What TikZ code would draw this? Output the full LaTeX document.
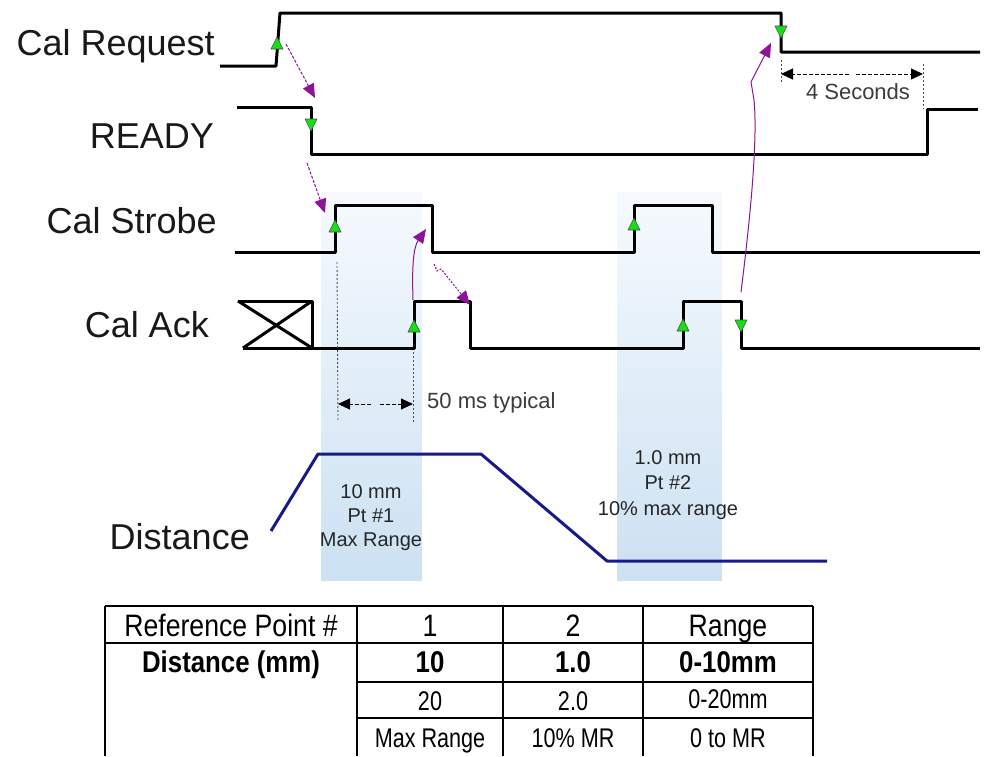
\documentclass[tikz,border=0pt]{standalone}
\usepackage{fontspec}
\setmainfont{Liberation Sans}
\newfontfamily\hdrfont[FakeStretch=0.86]{Liberation Sans}
\newfontfamily\narrowfont[FakeStretch=0.80]{Liberation Sans}
\usetikzlibrary{arrows.meta}
\definecolor{bandtop}{RGB}{246,250,254}
\definecolor{bandbot}{RGB}{204,225,242}
\definecolor{navy}{RGB}{25,25,135}
\definecolor{purp}{RGB}{140,20,150}
\definecolor{trigreen}{RGB}{20,225,20}
\definecolor{txtgrey}{RGB}{60,60,60}
\tikzset{
  sig/.style={line width=3pt, line join=round, black},
  lbl/.style={font=\fontsize{36}{40}\selectfont, inner sep=0pt, text=black!90},
  dimlbl/.style={font=\fontsize{22}{26}\selectfont, inner sep=0pt, text=txtgrey},
  bandlbl/.style={font=\fontsize{20}{24}\selectfont, inner sep=0pt, text=black!85, align=center},
  trifill/.style={fill=trigreen, draw=black!70, line width=0.6pt, line join=round},
  parrow/.style={purp, line width=1pt, -{Triangle[length=14pt,width=12pt]}},
  dimhead/.style={black, line width=1pt, dash pattern=on 4pt off 2pt, -{Triangle[length=12pt,width=11pt]}},
  guide/.style={black!70, line width=0.9pt, dash pattern=on 2pt off 2pt},
  dist/.style={navy, line width=3pt, line join=round},
  tab/.style={black, line width=2.2pt},
  hdr/.style={font=\hdrfont\fontsize{31}{34}\selectfont, inner sep=0pt, anchor=base},
  bld/.style={font=\hdrfont\bfseries\fontsize{30}{34}\selectfont, inner sep=0pt, anchor=base},
  reg/.style={font=\narrowfont\fontsize{27}{30}\selectfont, inner sep=0pt, anchor=base},
}
\newcommand\uptri[2]{\filldraw[trifill] (#1,#2) ++(-6,6) -- ++(12,0) -- ++(-6,-12) -- cycle;}
\newcommand\dntri[2]{\filldraw[trifill] (#1,#2) ++(-6,-6) -- ++(12,0) -- ++(-6,12) -- cycle;}
\begin{document}
\begin{tikzpicture}[x=1pt,y=-1pt]
\useasboundingbox (0,0) rectangle (991,756);
\fill[white] (0,0) rectangle (991,756);

% shaded bands (light at top, blue at bottom)
\foreach \i in {0,...,96}{
  \pgfmathsetmacro\p{\i*100/96}
  \fill[bandbot!\p!bandtop] (321,{192+\i*4}) rectangle (422,{192+\i*4+4.6});
  \fill[bandbot!\p!bandtop] (617,{192+\i*4}) rectangle (722,{192+\i*4+4.6});
}

% labels
\node[lbl, anchor=base east] (lreq) at (215,55) {Cal Request};
\node[lbl, anchor=base east] (lrdy) at (214,148) {READY};
\node[lbl, anchor=base east] (lstb) at (217,233) {Cal Strobe};
\node[lbl, anchor=base east] (lack) at (209,337) {Cal Ack};
\node[lbl, anchor=base east] (ldist) at (250,549) {Distance};

% Cal Request
\draw[sig] (220,66) -- (276,66) -- (280,13) -- (781,13) -- (781,52) -- (980,52);
% READY
\draw[sig] (237,107) -- (311,107) -- (311,154) -- (927,154) -- (927,109) -- (978,109);
% Cal Strobe
\draw[sig] (235,252) -- (335,252) -- (335,205) -- (432,205) -- (432,252) -- (634,252) -- (634,205) -- (712,205) -- (712,252) -- (980,252);
% Cal Ack
\draw[sig] (238,301) -- (312,301) -- (312,348);
\draw[sig] (238,301) -- (312,348);
\draw[sig] (243,348) -- (312,301);
\draw[sig] (243,348) -- (414,348) -- (414,301) -- (470,301) -- (470,348) -- (683,348) -- (683,301) -- (741,301) -- (741,348) -- (980,348);

% edge markers
\uptri{277}{43}
\dntri{311}{125}
\dntri{781}{32}
\uptri{335}{226}
\uptri{634}{224}
\uptri{414}{326}
\uptri{683}{325}
\dntri{741}{326}

% 4 seconds dimension
\coordinate (s4a) at (781,74);
\coordinate (s4b) at (923,74);
\coordinate (s4m1) at (849,74);
\coordinate (s4m2) at (856,74);
\draw[guide] (781,60) -- (781,84);
\draw[guide] (923,64) -- (923,109);
\draw[dimhead] (s4m1) -- (s4a);
\draw[dimhead] (s4m2) -- (s4b);
\node[dimlbl] (t4s) at (858,92) {4 Seconds};

% 50 ms dimension
\coordinate (m50a) at (338,404);
\coordinate (m50b) at (413,404);
\coordinate (m50m1) at (371,404);
\coordinate (m50m2) at (380,404);
\draw[guide] (337,262) -- (338,420);
\draw[guide] (413,352) -- (413,422);
\draw[dimhead] (m50m1) -- (m50a);
\draw[dimhead] (m50m2) -- (m50b);
\node[dimlbl, anchor=west] (t50) at (427,403) {50 ms typical};

% purple causality arrows
\coordinate (a1s) at (286,44);
\coordinate (a1e) at (315,98);
\coordinate (a2s) at (307,163);
\coordinate (a2e) at (325,213);
\coordinate (a3s) at (413,300);
\coordinate (a3e) at (426,229);
\coordinate (a4s) at (434,264);
\coordinate (a4e) at (470,305);
\coordinate (a5s) at (741,292);
\coordinate (a5e) at (771,43);
\draw[parrow, dash pattern=on 3pt off 1.5pt] (a1s) -- (a1e);
\draw[parrow, dash pattern=on 3pt off 1.5pt] (a2s) -- (a2e);
\draw[parrow] (a3s) .. controls (412,268) and (413,248) .. (a3e);
\draw[parrow, dash pattern=on 2pt off 1.5pt] (a4s) -- (437,271) -- (441,269) -- (a4e);
\draw[parrow] (a5s) .. controls (750,220) and (758,140) .. (754,100) -- (751,82) -- (a5e);

% distance profile
\draw[dist] (271,531) -- (318,454) -- (481,454) -- (607,561) -- (827,561);
\node[bandlbl] (b1) at (371,518) {10 mm\\Pt \#1\\Max Range};
\node[bandlbl, font=\fontsize{20}{25.5}\selectfont] (b2) at (668,485) {1.0 mm\\Pt \#2\\10\% max range};

% table
\draw[tab] (105,606) -- (813,606);
\draw[tab] (105,643) -- (813,643);
\draw[tab] (357,682) -- (813,682);
\draw[tab] (357,718) -- (813,718);
\draw[tab] (105,606) -- (105,756);
\draw[tab] (357,606) -- (357,756);
\draw[tab] (503,606) -- (503,756);
\draw[tab] (643,606) -- (643,756);
\draw[tab] (813,606) -- (813,756);

\node[hdr] (h0) at (231,636) {Reference Point \#};
\node[hdr] (h1) at (430,636) {1};
\node[hdr] (h2) at (573,636) {2};
\node[hdr] (h3) at (728,636) {Range};
\node[bld] (r0) at (231,672) {Distance (mm)};
\node[bld] (r1) at (430,672) {10};
\node[bld] (r2) at (573,672) {1.0};
\node[bld] (r3) at (728,672) {0-10mm};
\node[reg] (s1) at (430,710) {20};
\node[reg] (s2) at (573,710) {2.0};
\node[reg] (s3) at (728,708) {0-20mm};
\node[reg] (u1) at (430,747) {Max Range};
\node[reg] (u2) at (573,747) {10\% MR};
\node[reg] (u3) at (728,747) {0 to MR};
\end{tikzpicture}
\end{document}
